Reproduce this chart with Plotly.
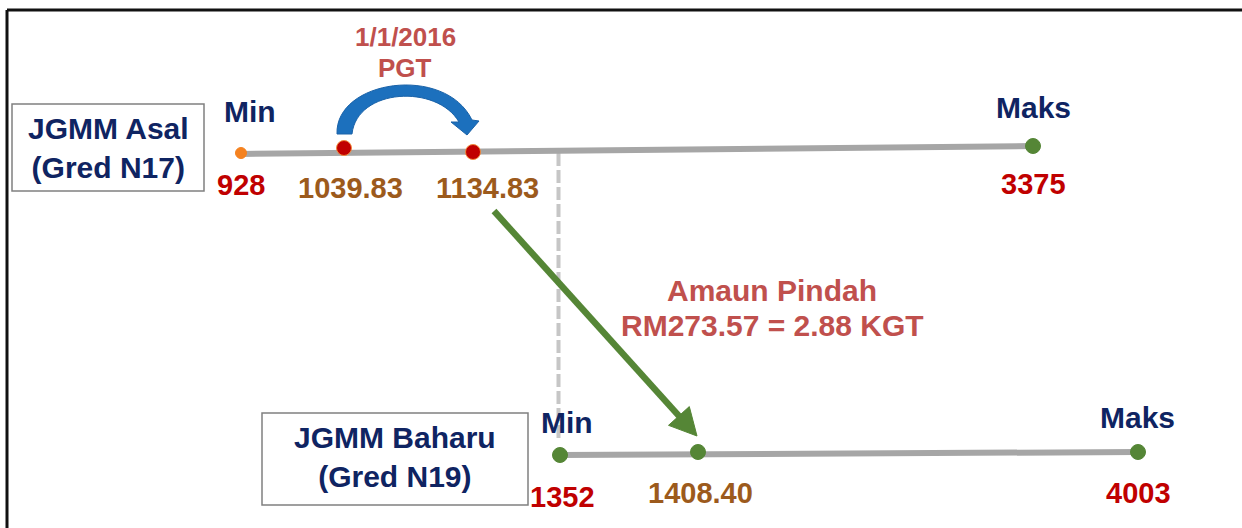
import plotly.graph_objects as go

# ---------------- data ----------------
asal_values = [928, 1039.83, 1134.83, 3375]
baharu_values = [1352, 1408.40, 4003]
end_labels = ["Min", "Maks"]
box_titles = ["JGMM Asal<br>(Gred N17)", "JGMM Baharu<br>(Gred N19)"]
pgt_text = ["1/1/2016", "PGT"]
transfer_text = ["Amaun Pindah", "RM273.57 = 2.88 KGT"]

# ---------------- layout (pixel positions of the diagram) ----------------
W, H = 1242, 528
asal_x = [241, 344, 473, 1033]
asal_y = [153, 148, 152, 146]
asal_lbl_x = [241, 350, 487, 1033]
asal_lbl_y = [185, 188, 188, 184]
baharu_x = [560, 698, 1138]
baharu_y = [455, 452, 452]
baharu_lbl_x = [562, 700, 1138]
baharu_lbl_y = [497, 493, 493]
asal_end_lbl = [(250, 111), (1033, 107)]
baharu_end_lbl = [(567, 422), (1137, 417)]
boxes = [(12, 104, 204, 191), (262, 413, 528, 505)]
box_text_pos = [(108, 148), (395, 457)]
pgt_pos = [(405, 37), (405, 68)]
transfer_pos = [(772, 290), (772, 325)]

NAVY = "#0f2462"
DARKRED = "#c00000"
BROWN = "#9c5a1c"
MUTED = "#c0504d"
GREY = "#a6a6a6"
GREEN = "#558636"
BLUE = "#1c70bd"
FONT = "Liberation Sans, Arial, sans-serif"

asal_marker_colors = ["#f5821f", "#c00000", "#c00000", GREEN]
asal_marker_sizes = [11, 15, 15, 15]
asal_label_colors = [DARKRED, BROWN, BROWN, DARKRED]
baharu_label_colors = [DARKRED, BROWN, DARKRED]


def fmt(v):
    return f"{int(v)}" if float(v).is_integer() else f"{v:.2f}"


fig = go.Figure()
shapes = []
annotations = []

# outer frame (only left and top edges are visible in the picture)
shapes.append(dict(type="line", xref="paper", yref="paper", x0=7 / W, y0=1 - 10 / H, x1=1.0, y1=1 - 10 / H,
                   line=dict(color="#111111", width=3)))
shapes.append(dict(type="line", xref="paper", yref="paper", x0=7 / W, y0=1 - 10 / H, x1=7 / W, y1=0,
                   line=dict(color="#111111", width=3)))

# dashed vertical link
shapes.append(dict(type="line", x0=558.5, y0=153, x1=558.5, y1=440,
                   line=dict(color="#c6c6c6", width=4, dash="13px,4px"), layer="below"))

# scale lines
shapes.append(dict(type="line", x0=asal_x[0], y0=asal_y[0] + 1, x1=asal_x[-1], y1=asal_y[-1],
                   line=dict(color=GREY, width=6), layer="below"))
shapes.append(dict(type="line", x0=baharu_x[0], y0=baharu_y[0], x1=baharu_x[-1], y1=baharu_y[-1],
                   line=dict(color=GREY, width=6), layer="below"))

# boxes
for (x0, y0, x1, y1) in boxes:
    shapes.append(dict(type="rect", x0=x0, y0=y0, x1=x1, y1=y1,
                       line=dict(color="#808080", width=1.5), fillcolor="white"))

# blue curved arrow
blue_path = ("M 337,134 C 335,80 445,64 472,120 L 479,121 L 467,135 L 451,122 L 459,122 "
             "C 437,84 357,88 352,134 Z")
shapes.append(dict(type="path", path=blue_path, fillcolor=BLUE, line=dict(color="#1a62a8", width=1)))

# green straight arrow
sx, sy = 494, 211
tx, ty = 697, 436
dx, dy = tx - sx, ty - sy
L = (dx ** 2 + dy ** 2) ** 0.5
ux, uy = dx / L, dy / L
hl, hw = 27, 14
bx, by = tx - hl * ux, ty - hl * uy
nx, ny = -uy, ux
shapes.append(dict(type="line", x0=sx, y0=sy, x1=bx + 2 * ux, y1=by + 2 * uy,
                   line=dict(color=GREEN, width=6.5)))
shapes.append(dict(type="path",
                   path=f"M {tx},{ty} L {bx + hw * nx},{by + hw * ny} L {bx - hw * nx},{by - hw * ny} Z",
                   fillcolor=GREEN, line=dict(color=GREEN, width=1)))

# markers
fig.add_trace(go.Scatter(x=asal_x, y=asal_y, mode="markers",
                         marker=dict(color=asal_marker_colors, size=asal_marker_sizes, opacity=1,
                                     line=dict(color=["#f5821f", "#f08a3c", "#f08a3c", GREEN], width=1)),
                         hoverinfo="skip", showlegend=False))
fig.add_trace(go.Scatter(x=baharu_x, y=baharu_y, mode="markers",
                         marker=dict(color=GREEN, size=15, opacity=1, line=dict(color=GREEN, width=1)),
                         hoverinfo="skip", showlegend=False))


def add_text(x, y, text, color, size):
    annotations.append(dict(x=x, y=y, xref="x", yref="y", text=f"<b>{text}</b>", showarrow=False,
                            xanchor="center", yanchor="middle",
                            font=dict(family=FONT, size=size, color=color)))


for v, x, y, c in zip(asal_values, asal_lbl_x, asal_lbl_y, asal_label_colors):
    add_text(x, y, fmt(v), c, 29)
for v, x, y, c in zip(baharu_values, baharu_lbl_x, baharu_lbl_y, baharu_label_colors):
    add_text(x, y, fmt(v), c, 29)
for lbl, (x, y) in zip(end_labels, asal_end_lbl):
    add_text(x, y, lbl, NAVY, 30)
for lbl, (x, y) in zip(end_labels, baharu_end_lbl):
    add_text(x, y, lbl, NAVY, 30)
for t, (x, y) in zip(box_titles, box_text_pos):
    add_text(x, y, t, NAVY, 30)
for t, (x, y) in zip(pgt_text, pgt_pos):
    add_text(x, y, t, MUTED, 26)
for t, (x, y) in zip(transfer_text, transfer_pos):
    add_text(x, y, t, MUTED, 30)

fig.update_layout(
    width=W, height=H,
    margin=dict(l=0, r=0, t=0, b=0),
    paper_bgcolor="white", plot_bgcolor="white",
    xaxis=dict(range=[0, W], visible=False, fixedrange=True),
    yaxis=dict(range=[H, 0], visible=False, fixedrange=True),
    shapes=shapes, annotations=annotations,
    showlegend=False,
)

fig.write_html("out.html", config={"displayModeBar": False},
               post_script="document.body.style.margin='0';document.body.style.overflow='hidden';")
